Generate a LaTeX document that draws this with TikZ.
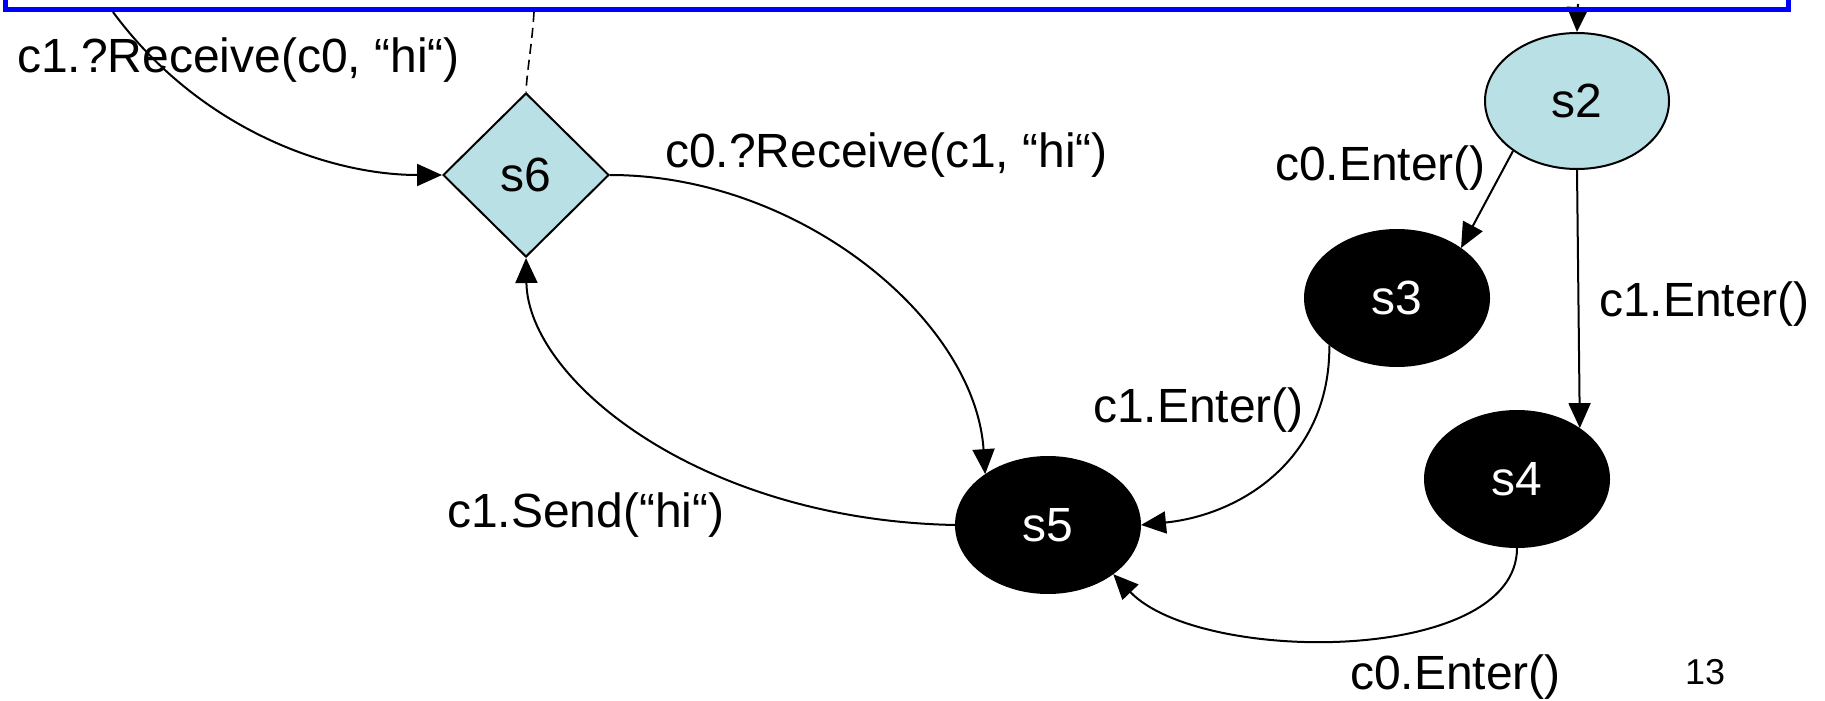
\documentclass[tikz,border=0pt]{standalone}
\usepackage{fontspec}
\setmainfont{Liberation Sans}
\usetikzlibrary{shapes.geometric,arrows.meta}
\definecolor{statefill}{RGB}{185,224,228}
\begin{document}
\begin{tikzpicture}[x=1pt,y=-1pt,
  every node/.style={font=\fontsize{48}{58}\selectfont},
  lightstate/.style={ellipse,draw,line width=2pt,fill=statefill,
    minimum width=184pt,minimum height=136pt,inner sep=0pt},
  darkstate/.style={ellipse,draw,line width=2pt,fill=black,text=white,
    minimum width=184pt,minimum height=136pt,inner sep=0pt},
  choice/.style={diamond,aspect=1,draw,line width=2pt,fill=statefill,
    minimum width=166pt,minimum height=164pt,inner sep=0pt},
  edge/.style={line width=2pt,-{Triangle[length=25pt,width=22pt]}},
  guard/.style={line width=1.6pt,dash pattern=on 10pt off 6pt},
  cluster/.style={draw=blue,line width=5pt},
  lbl/.style={anchor=base west,inner sep=0pt},
]
\clip (0,0) rectangle (1825,701);
\fill[white] (0,0) rectangle (1825,701);

% states
\node[lightstate] (s2) at (1577,101) {s2};
\node[darkstate]  (s3) at (1397,298) {s3};
\node[darkstate]  (s4) at (1517,479) {s4};
\node[darkstate]  (s5) at (1048,525) {s5};
\node[choice]     (s6) at (526,175)  {s6};

% points on the lower border of the enclosing box
\coordinate (b1) at (113,12);
\coordinate (b2) at (534,12);
\coordinate (b3) at (1578,4);

% transition labels
\node[lbl] (l1) at (17,73)    {c1.?Receive(c0, “hi“)};
\node[lbl] (l2) at (665,167)  {c0.?Receive(c1, “hi“)};
\node[lbl] (l3) at (1275,180) {c0.Enter()};
\node[lbl] (l4) at (1599,316) {c1.Enter()};
\node[lbl] (l5) at (1093,422) {c1.Enter()};
\node[lbl] (l6) at (447,527)  {c1.Send(“hi“)};
\node[lbl] (l7) at (1350,689) {c0.Enter()};
\node[lbl,font=\fontsize{36}{43}\selectfont] (pg) at (1685,684) {13};

% enclosing box (only its lower part is in view)
\draw[edge] (b3) -- (s2.north);
\draw[cluster] (5,-60) rectangle (1788,10);

% transitions
\draw[edge] (b1) .. controls (200,130) and (330,175) .. (s6.west);
\draw[guard] (b2) .. controls (532,45) and (527,70) .. (s6.north);
\draw[edge] (s6.east) .. controls (800,175) and (975,320) .. (s5.141);
\draw[edge] (s5.west) .. controls (700,520) and (528,380) .. (s6.south);
\draw[edge] (s2.218) -- (s3.38);
\draw[edge] (s2.south) -- (s4.39);
\draw[edge] (s3.215) .. controls (1330,460) and (1240,515) .. (s5.east);
\draw[edge] (s4.south) .. controls (1517,665) and (1200,665) .. (s5.-37);
\end{tikzpicture}
\end{document}
